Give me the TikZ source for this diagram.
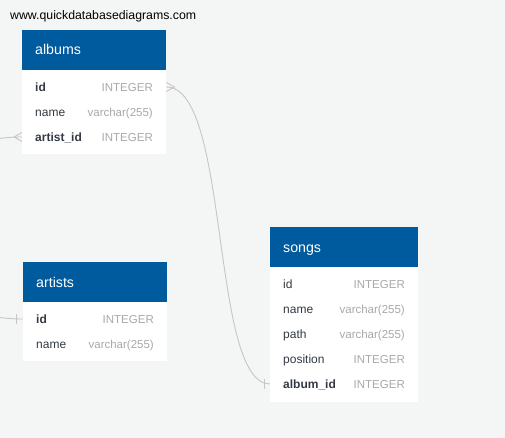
\documentclass[tikz,border=0pt]{standalone}
\usepackage{fontspec}
\setmainfont{Liberation Sans}
\definecolor{bg}{HTML}{F4F5F5}
\definecolor{hdr}{HTML}{005A9E}
\definecolor{fld}{HTML}{333A44}
\definecolor{typ}{HTML}{A9A9A9}
\definecolor{lnk}{HTML}{C6C6C6}
\begin{document}
\begin{tikzpicture}[x=1pt,y=-1pt,
  hdrbox/.style={fill=hdr,draw=none,inner sep=0pt,anchor=north west,minimum height=40pt},
  bodybox/.style={fill=white,draw=none,inner sep=0pt,anchor=north west},
  hdrtext/.style={text=white,inner sep=0pt,anchor=base west,font=\fontsize{14.2}{16}\selectfont},
  fname/.style={text=fld,inner sep=0pt,anchor=base west,font=\fontsize{12}{14}\selectfont},
  fkey/.style={fname,font=\fontsize{12}{14}\selectfont\bfseries},
  ftype/.style={text=typ,inner sep=0pt,anchor=base east,font=\fontsize{11.5}{14}\selectfont},
  link/.style={draw=lnk,line width=0.9pt}]
\useasboundingbox (0,0) rectangle (505,438);
\clip (0,0) rectangle (505,438);
\fill[bg] (0,0) rectangle (505,438);

\node[inner sep=0pt,anchor=base west,font=\fontsize{12.3}{14}\selectfont] (url) at (10,20) {www.quickdatabasediagrams.com};

% albums
\node[hdrbox,minimum width=144pt] (albumsH) at (22,30) {};
\node[bodybox,minimum width=144pt,minimum height=84pt] (albumsB) at (22,70) {};
\node[hdrtext] (albumsT) at (35,55) {albums};
\node[fkey] (albums-id) at (35,91.5) {id};
\node[ftype] (albums-id-t) at (153,91.5) {INTEGER};
\node[fname] (albums-name) at (35,116.5) {name};
\node[ftype] (albums-name-t) at (153,116.5) {varchar(255)};
\node[fkey] (albums-artistid) at (35,141.5) {artist\_id};
\node[ftype] (albums-artistid-t) at (153,141.5) {INTEGER};

% artists
\node[hdrbox,minimum width=144pt] (artistsH) at (23,262) {};
\node[bodybox,minimum width=144pt,minimum height=59pt] (artistsB) at (23,302) {};
\node[hdrtext] (artistsT) at (36,287) {artists};
\node[fkey] (artists-id) at (36,323.5) {id};
\node[ftype] (artists-id-t) at (154,323.5) {INTEGER};
\node[fname] (artists-name) at (36,348.5) {name};
\node[ftype] (artists-name-t) at (154,348.5) {varchar(255)};

% songs
\node[hdrbox,minimum width=148pt] (songsH) at (270,227) {};
\node[bodybox,minimum width=148pt,minimum height=135pt] (songsB) at (270,267) {};
\node[hdrtext] (songsT) at (283,252) {songs};
\node[fname] (songs-id) at (283,288.5) {id};
\node[ftype] (songs-id-t) at (405,288.5) {INTEGER};
\node[fname] (songs-name) at (283,313.5) {name};
\node[ftype] (songs-name-t) at (405,313.5) {varchar(255)};
\node[fname] (songs-path) at (283,338.5) {path};
\node[ftype] (songs-path-t) at (405,338.5) {varchar(255)};
\node[fname] (songs-position) at (283,363.5) {position};
\node[ftype] (songs-position-t) at (405,363.5) {INTEGER};
\node[fkey] (songs-albumid) at (283,388.5) {album\_id};
\node[ftype] (songs-albumid-t) at (405,388.5) {INTEGER};

% connector anchor points
\coordinate (albums-id-r) at (albumsB.east |- 0,87);
\coordinate (albums-artistid-l) at (albumsB.west |- 0,137);
\coordinate (artists-id-l) at (artistsB.west |- 0,319);
\coordinate (songs-albumid-l) at (songsB.west |- 0,384);

% albums.id  >-- songs.album_id
\draw[link] (albums-id-r) .. controls +(64,0) and +(-60,0) .. (songs-albumid-l);
\draw[link] (albums-id-r) ++(0,-4.5) -- ++(8,4.5) -- ++(-8,4.5);
\draw[link] (songs-albumid-l) ++(-6,-5) -- ++(0,10);

% artists.id --< albums.artist_id
\draw[link] (artists-id-l) .. controls +(-150,0) and +(-150,0) .. (albums-artistid-l);
\draw[link] (albums-artistid-l) ++(0,-4.5) -- ++(-8,4.5) -- ++(8,4.5);
\draw[link] (artists-id-l) ++(-7,-5) -- ++(0,10);
\end{tikzpicture}
\end{document}
